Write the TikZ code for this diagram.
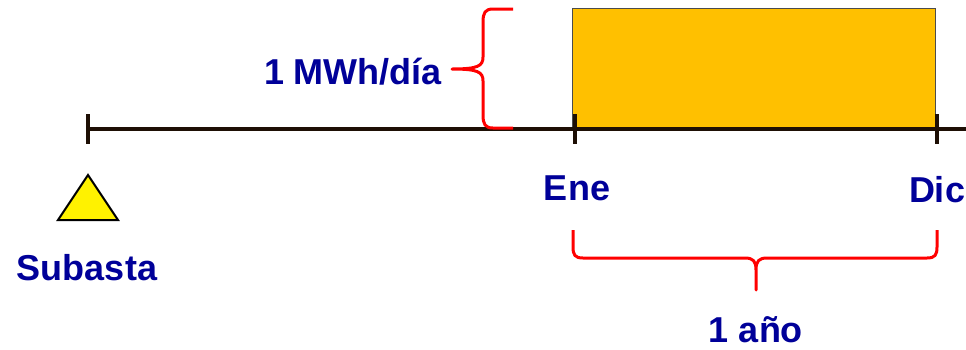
\documentclass[tikz,border=0pt]{standalone}
\usepackage{fontspec}
\setmainfont{Liberation Sans}
\definecolor{txtblue}{RGB}{0,0,153}
\definecolor{axisbrown}{RGB}{30,15,5}
\definecolor{boxorange}{RGB}{255,192,0}
\definecolor{bracered}{RGB}{255,0,0}
\tikzset{
  lbl/.style={text=txtblue,font=\fontsize{36}{40}\selectfont\bfseries,inner sep=0pt,anchor=center},
  axisline/.style={draw=axisbrown,line width=4pt},
  tickline/.style={draw=axisbrown,line width=4.5pt},
  curly/.style={draw=bracered,line width=3pt,line join=round},
}
\begin{document}
\begin{tikzpicture}[x=1pt,y=-1pt]
\useasboundingbox (0,0) rectangle (966,349);
% box
\node[draw=black!70,line width=1.2pt,fill=boxorange,minimum width=363pt,minimum height=121pt,inner sep=0pt,anchor=north west] (box) at (572,8) {};
% axis
\coordinate (a0) at (88,129);
\coordinate (a1) at (966,129);
\draw[axisline] (a0) -- (a1);
\coordinate (t0a) at (88,114); \coordinate (t0b) at (88,144);
\coordinate (t1a) at (575,114); \coordinate (t1b) at (575,144);
\coordinate (t2a) at (937,114); \coordinate (t2b) at (937,144);
\draw[tickline] (t0a) -- (t0b);
\draw[tickline] (t1a) -- (t1b);
\draw[tickline] (t2a) -- (t2b);
% left brace
\coordinate (lb1) at (513,9);
\coordinate (lbtip) at (452,69);
\coordinate (lb0) at (513,128);
\draw[curly] (lb1) -- (493,9) .. controls (485,9) and (483,13) .. (483,22) -- (483,57)
  .. controls (483,66) and (478,69) .. (lbtip)
  .. controls (478,69) and (483,72) .. (483,81) -- (483,115)
  .. controls (483,124) and (485,128) .. (493,128) -- (lb0);
\node[lbl] (mwh) at (353,72) {1 MWh/día};
% triangle
\coordinate (triA) at (88,175);
\coordinate (triB) at (58,220);
\coordinate (triC) at (118,220);
\draw[draw=black,line width=2pt,fill=yellow,line join=miter] (triA) -- (triB) -- (triC) -- cycle;
\node[lbl] (sub) at (87,268) {Subasta};
\node[lbl] (ene) at (577,188) {Ene};
\node[lbl] (dic) at (937,190) {Dic};
% bottom brace
\coordinate (bb1) at (573,230);
\coordinate (bbtip) at (756,290);
\coordinate (bb0) at (937,230);
\draw[curly] (bb1) -- (573,247) .. controls (573,255) and (575,258) .. (583,258) -- (745,258)
  .. controls (753,258) and (756,261) .. (756,270) -- (bbtip)
  -- (756,270) .. controls (756,261) and (759,258) .. (767,258) -- (927,258)
  .. controls (935,258) and (937,255) .. (937,247) -- (bb0);
\node[lbl] (anio) at (756,330) {1 año};
\end{tikzpicture}
\end{document}
